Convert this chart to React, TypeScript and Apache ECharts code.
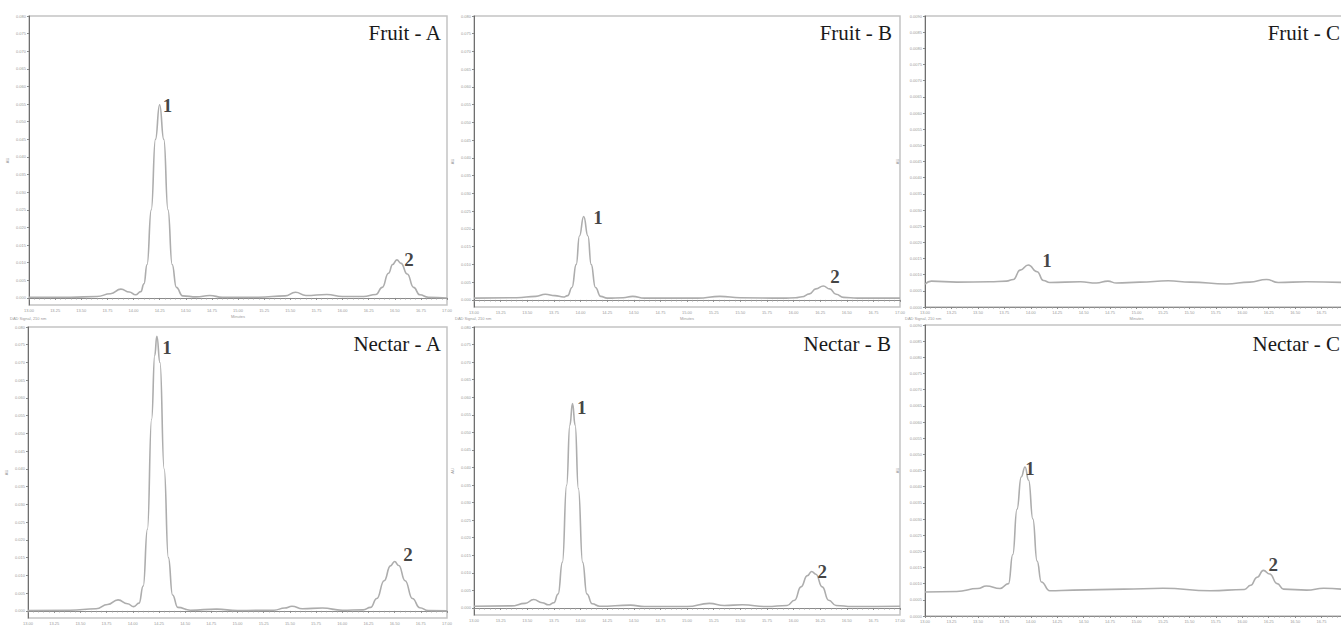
import React, { useEffect, useRef } from "react";
import * as echarts from "echarts";

// ---------- data (minutes, AU) ----------
const fruitA: number[][] = [[13.00,0.0002],[13.40,0.0002],[13.65,0.0004],[13.78,0.0012],[13.88,0.0025],[13.96,0.0017],[14.02,0.0009],[14.07,0.0018],[14.10,0.0040],[14.13,0.0095],[14.17,0.0250],[14.21,0.0450],[14.25,0.0548],[14.29,0.0450],[14.33,0.0250],[14.37,0.0095],[14.41,0.0030],[14.47,0.0006],[14.60,0.0003],[14.73,0.0007],[14.85,0.0002],[15.20,0.0002],[15.45,0.0006],[15.55,0.0016],[15.65,0.0007],[15.85,0.0010],[16.00,0.0004],[16.20,0.0004],[16.32,0.0010],[16.38,0.0030],[16.44,0.0070],[16.48,0.0095],[16.52,0.0108],[16.56,0.0098],[16.62,0.0068],[16.68,0.0030],[16.74,0.0009],[16.82,0.0002],[17.00,0.0000]];
const fruitB: number[][] = [[13.00,0.0005],[13.40,0.0006],[13.58,0.0010],[13.67,0.0016],[13.76,0.0012],[13.84,0.0008],[13.88,0.0012],[13.92,0.0035],[13.96,0.0100],[13.99,0.0180],[14.03,0.0235],[14.07,0.0180],[14.10,0.0100],[14.14,0.0035],[14.19,0.0010],[14.25,0.0005],[14.40,0.0006],[14.49,0.0010],[14.60,0.0005],[15.10,0.0005],[15.31,0.0010],[15.50,0.0006],[15.90,0.0005],[16.02,0.0006],[16.08,0.0009],[16.15,0.0017],[16.21,0.0031],[16.28,0.0039],[16.34,0.0031],[16.40,0.0016],[16.47,0.0007],[16.60,0.0005],[17.00,0.0005]];
const fruitC: number[][] = [[13.00,0.00071],[13.06,0.00080],[13.30,0.00077],[13.61,0.00078],[13.77,0.00080],[13.835,0.00085],[13.90,0.00114],[13.977,0.00130],[14.06,0.00109],[14.12,0.00082],[14.18,0.00076],[14.47,0.00078],[14.62,0.00074],[14.73,0.00080],[14.81,0.00074],[15.03,0.00077],[15.30,0.00081],[15.51,0.00077],[15.85,0.00071],[16.07,0.00077],[16.23,0.00085],[16.34,0.00076],[16.61,0.00078],[16.94,0.00076]];
const nectarA: number[][] = [[13.00,0.0001],[13.40,0.0002],[13.65,0.0006],[13.76,0.0018],[13.86,0.0031],[13.95,0.0020],[14.01,0.0012],[14.06,0.0022],[14.10,0.0070],[14.14,0.0230],[14.18,0.0540],[14.21,0.0720],[14.23,0.0774],[14.26,0.0700],[14.30,0.0400],[14.34,0.0150],[14.38,0.0045],[14.43,0.0010],[14.55,0.0002],[14.80,0.0005],[15.00,0.0001],[15.35,0.0002],[15.45,0.0008],[15.52,0.0013],[15.62,0.0006],[15.81,0.0008],[16.00,0.0002],[16.20,0.0003],[16.27,0.0010],[16.33,0.0035],[16.40,0.0085],[16.46,0.0127],[16.50,0.0139],[16.54,0.0128],[16.60,0.0085],[16.67,0.0035],[16.74,0.0009],[16.82,0.0001],[17.00,0.0000]];
const nectarB: number[][] = [[13.00,0.0005],[13.35,0.0006],[13.48,0.0013],[13.56,0.0024],[13.64,0.0015],[13.70,0.0009],[13.75,0.0015],[13.79,0.0040],[13.83,0.0130],[13.87,0.0350],[13.90,0.0520],[13.925,0.0582],[13.95,0.0520],[13.98,0.0340],[14.02,0.0130],[14.06,0.0040],[14.11,0.0012],[14.18,0.0005],[14.47,0.0008],[14.60,0.0004],[15.00,0.0004],[15.21,0.0013],[15.35,0.0007],[15.52,0.0009],[15.75,0.0004],[15.94,0.0007],[16.01,0.0022],[16.07,0.0060],[16.13,0.0092],[16.17,0.0104],[16.21,0.0096],[16.27,0.0060],[16.33,0.0022],[16.40,0.0007],[16.55,0.0004],[17.00,0.0005]];
const nectarC: number[][] = [[13.00,0.00074],[13.30,0.00076],[13.50,0.00085],[13.58,0.00093],[13.71,0.00085],[13.79,0.00100],[13.83,0.00190],[13.87,0.00330],[13.91,0.00430],[13.946,0.00461],[13.98,0.00420],[14.02,0.00300],[14.06,0.00170],[14.10,0.00105],[14.18,0.00078],[14.40,0.00080],[14.88,0.00083],[15.25,0.00086],[15.70,0.00078],[16.02,0.00082],[16.08,0.00095],[16.14,0.00120],[16.20,0.00141],[16.26,0.00130],[16.33,0.00100],[16.39,0.00083],[16.61,0.00080],[16.77,0.00086],[16.94,0.00083]];

// peak number labels: [minutes, AU, name]
const peaksFruitA: any[] = [[14.325, 0.0545, "1"], [16.636, 0.0108, "2"]];
const peaksFruitB: any[] = [[14.164, 0.0231, "1"], [16.39, 0.0065, "2"]];
const peaksFruitC: any[] = [[14.154, 0.00145, "1"]];
const peaksNectarA: any[] = [[14.327, 0.0743, "1"], [16.628, 0.0160, "2"]];
const peaksNectarB: any[] = [[14.012, 0.0572, "1"], [16.271, 0.0103, "2"]];
const peaksNectarC: any[] = [[13.993, 0.00457, "1"], [16.292, 0.0016, "2"]];

const panelTitles = ["Fruit - A", "Fruit - B", "Fruit - C", "Nectar - A", "Nectar - B", "Nectar - C"];
const yTicksAB = [0.000,0.005,0.010,0.015,0.020,0.025,0.030,0.035,0.040,0.045,0.050,0.055,0.060,0.065,0.070,0.075,0.080];

const FONT_SERIF = "'Liberation Serif', 'DejaVu Serif', serif";

export default function App() {
  const ref = useRef<HTMLDivElement>(null);
  useEffect(() => {
    if (!ref.current) return;
    const chart = echarts.init(ref.current, null, { renderer: "svg" });

    const series = [fruitA, fruitB, fruitC, nectarA, nectarB, nectarC];
    const peaks = [peaksFruitA, peaksFruitB, peaksFruitC, peaksNectarA, peaksNectarB, peaksNectarC];
    const grids = [
      { left: 29, top: 16, width: 418, height: 289 },
      { left: 474, top: 16, width: 426, height: 291 },
      { left: 925, top: 16, width: 423, height: 291 },
      { left: 28, top: 327, width: 419, height: 291 },
      { left: 474, top: 327, width: 426, height: 288 },
      { left: 925, top: 325, width: 423, height: 291 },
    ];
    const isC = [false, false, true, false, false, true];
    const isTop = [true, true, true, false, false, false];
    const titlePos = [
      { right: 899, top: 22 },
      { right: 449, top: 22 },
      { right: 1, top: 22 },
      { right: 899, top: 333 },
      { right: 450, top: 333 },
      { right: 1, top: 333 },
    ];

    const axisTextColor = "#9a9a9a";

    const option: any = {
      animation: false,
      backgroundColor: "#ffffff",
      title: panelTitles.map((t, i) => ({
        text: t,
        right: titlePos[i].right,
        top: titlePos[i].top,
        padding: 0,
        textStyle: { fontFamily: FONT_SERIF, fontWeight: "normal", fontSize: 21, color: "#1a1a1a" },
      })),
      grid: grids.map((g) => ({
        ...g,
        show: true,
        borderColor: "#c4c4c4",
        borderWidth: 1.5,
        backgroundColor: "#ffffff",
        containLabel: false,
        outerBoundsMode: "none",
      })),
      xAxis: grids.map((_, i) => ({
        type: "value",
        gridIndex: i,
        min: 13,
        max: 17,
        interval: 0.25,
        name: isTop[i] ? "Minutes" : "",
        nameLocation: "middle",
        nameGap: 9,
        nameTextStyle: { fontSize: 4, color: axisTextColor },
        axisLine: { show: true, lineStyle: { color: "#8a8a8a", width: 1 } },
        axisTick: { show: true, length: 2, lineStyle: { color: "#8a8a8a" } },
        minorTick: { show: true, splitNumber: 5, length: 1.5, lineStyle: { color: "#9a9a9a" } },
        axisLabel: {
          fontSize: 4,
          color: axisTextColor,
          margin: 3,
          showMaxLabel: !isC[i],
          formatter: (v: number) => (isC[i] && v > 16.8 ? "" : v.toFixed(2)),
        },
        splitLine: { show: false },
      })),
      yAxis: grids.map((_, i) =>
        isC[i]
          ? {
              type: "value",
              gridIndex: i,
              min: 0,
              max: 0.009,
              interval: 0.0005,
              name: "AU",
              nameLocation: "middle",
              nameGap: 26,
              nameTextStyle: { fontSize: 4, color: axisTextColor },
              axisLine: { show: true, lineStyle: { color: "#6f6f6f", width: 1 } },
              axisTick: { show: true, length: 2, lineStyle: { color: "#8a8a8a" } },
              axisLabel: { fontSize: 4, color: axisTextColor, margin: 3, formatter: (v: number) => v.toFixed(4) },
              splitLine: { show: false },
            }
          : {
              type: "value",
              gridIndex: i,
              min: -0.002,
              max: 0.08,
              name: "AU",
              nameLocation: "middle",
              nameGap: 20,
              nameTextStyle: { fontSize: 4, color: axisTextColor },
              axisLine: { show: true, lineStyle: { color: "#6f6f6f", width: 1 } },
              axisTick: { show: true, length: 2, customValues: yTicksAB, lineStyle: { color: "#8a8a8a" } },
              axisLabel: {
                fontSize: 4,
                color: axisTextColor,
                margin: 3,
                customValues: yTicksAB,
                formatter: (v: number) => v.toFixed(3),
              },
              splitLine: { show: false },
            }
      ),
      series: [
        ...series.map((d, i) => ({
          type: "line",
          xAxisIndex: i,
          yAxisIndex: i,
          data: d,
          showSymbol: false,
          smooth: 0.5,
          smoothMonotone: "x",
          lineStyle: { color: "#adadad", width: 1.6 },
          clip: true,
          z: 3,
        })),
        ...peaks.map((p, i) => ({
          type: "scatter",
          xAxisIndex: i,
          yAxisIndex: i,
          data: p.map((q: any) => ({ value: [q[0], q[1]], name: q[2] })),
          symbolSize: 0,
          silent: true,
          label: {
            show: true,
            position: "inside",
            formatter: (pp: any) => pp.name,
            fontFamily: FONT_SERIF,
            fontWeight: "bold",
            fontSize: 19,
            color: "#111111",
          },
          z: 5,
        })),
      ],
      graphic: [
        { type: "text", left: 10, top: 316, style: { text: "DAD Signal, 210 nm", fontSize: 4, fill: axisTextColor } },
        { type: "text", left: 455, top: 316, style: { text: "DAD Signal, 210 nm", fontSize: 4, fill: axisTextColor } },
        { type: "text", left: 905, top: 316, style: { text: "DAD Signal, 210 nm", fontSize: 4, fill: axisTextColor } },
      ],
    };

    chart.setOption(option);
    return () => chart.dispose();
  }, []);

  return (
    <div
      ref={ref}
      style={{ position: "absolute", left: 0, top: 0, width: 1341, height: 625, background: "#fff" }}
    />
  );
}
